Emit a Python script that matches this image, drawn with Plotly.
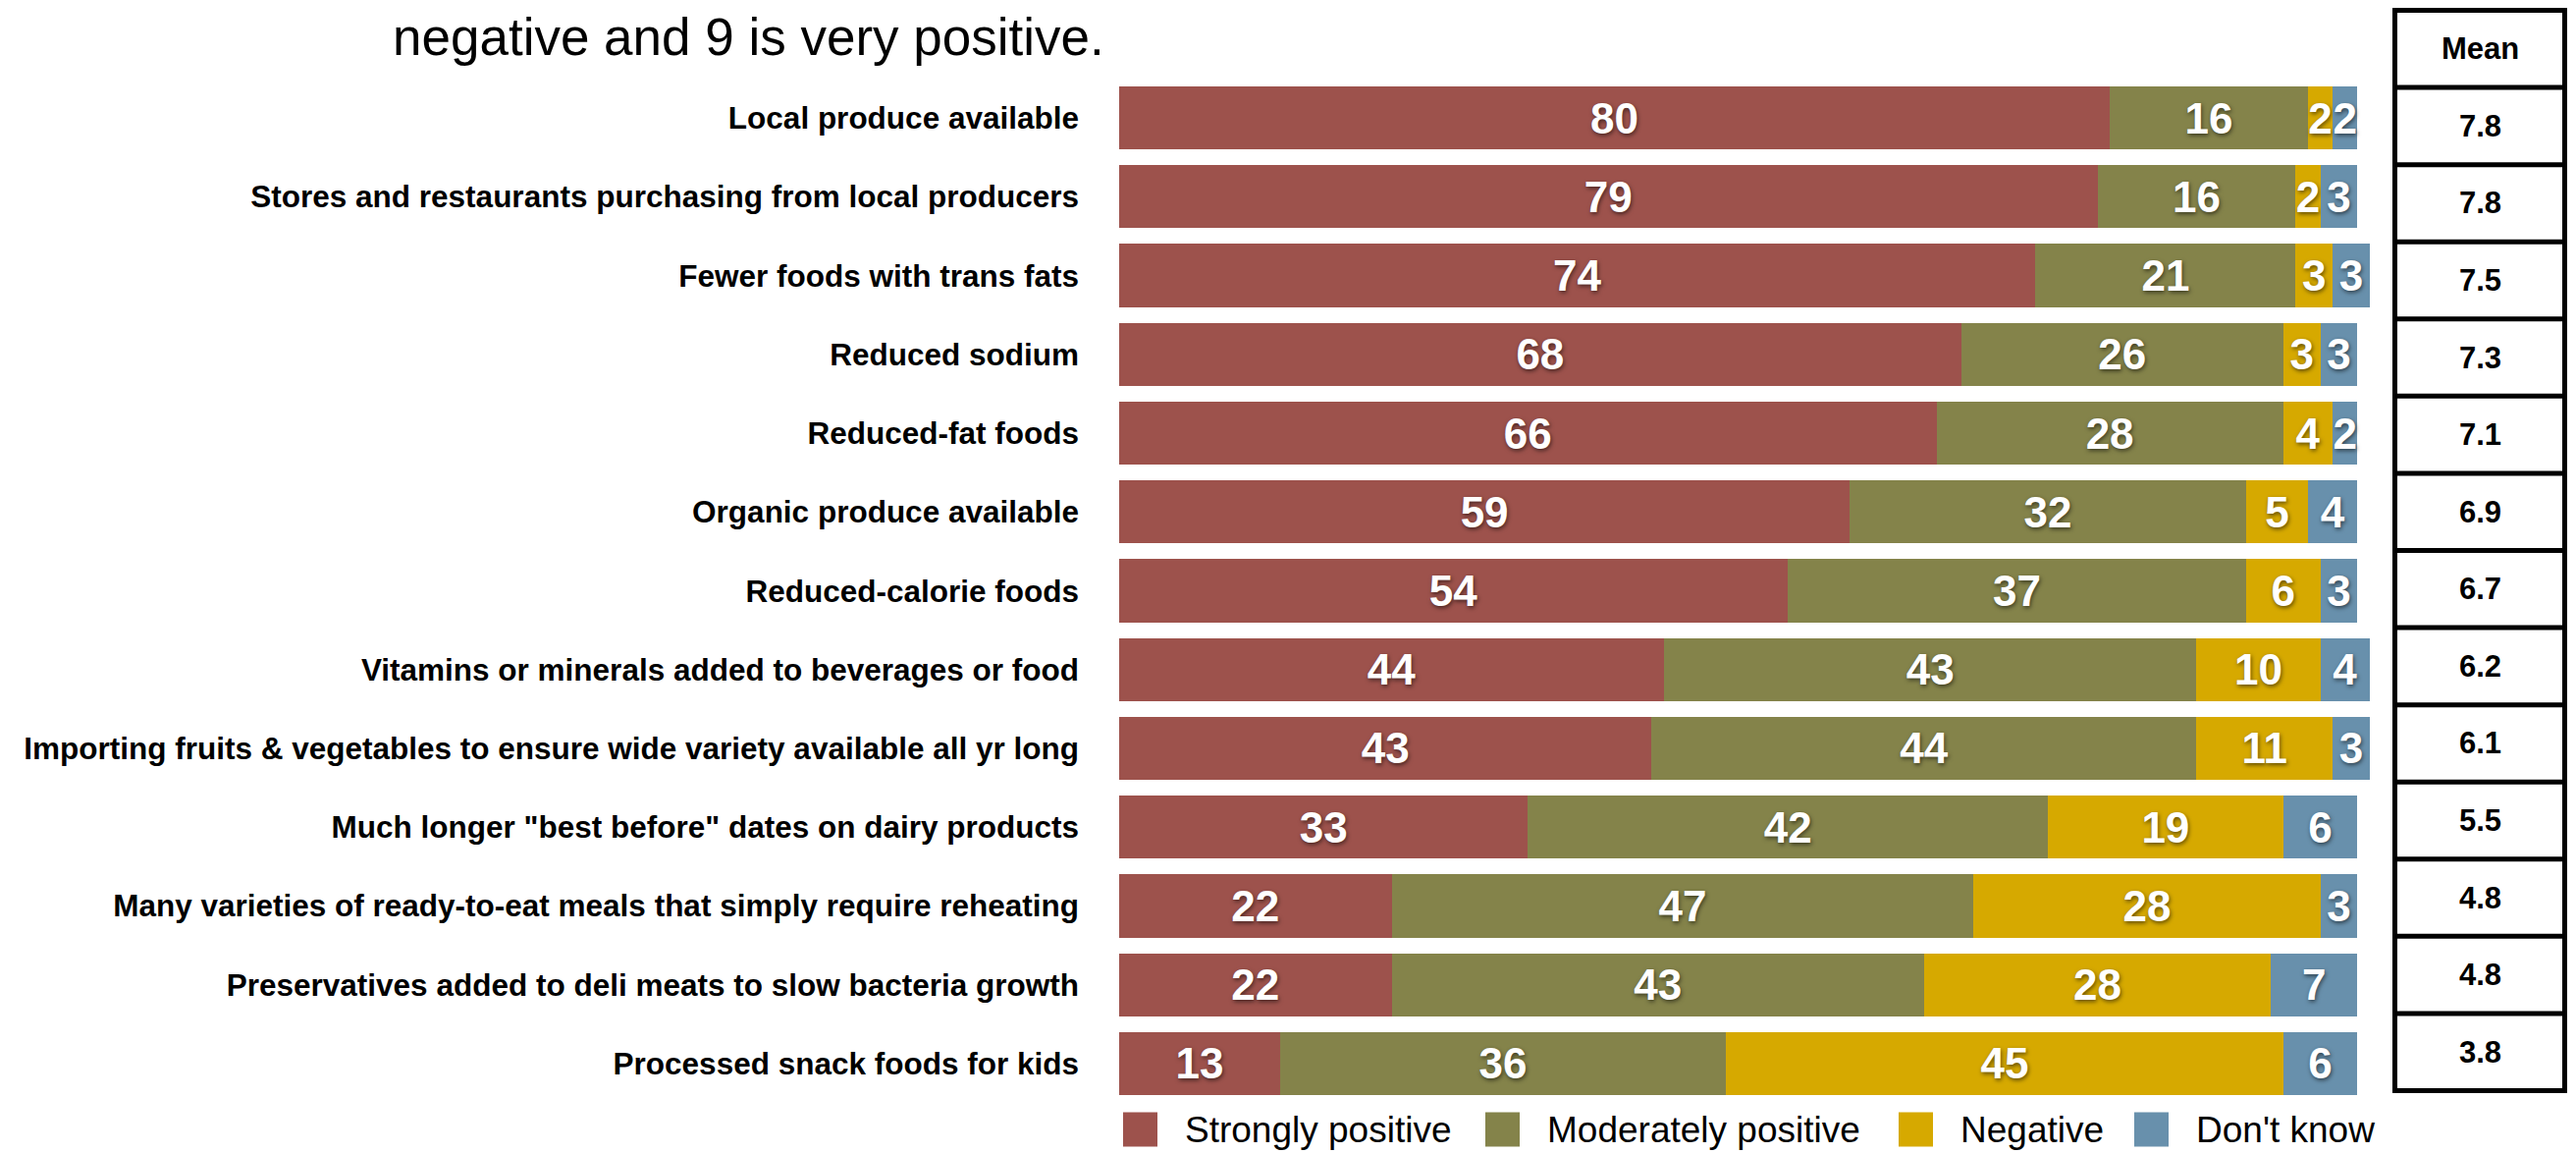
import plotly.graph_objects as go

# Survey items, top to bottom
categories = [
    "Local produce available",
    "Stores and restaurants purchasing from local producers",
    "Fewer foods with trans fats",
    "Reduced sodium",
    "Reduced-fat foods",
    "Organic produce available",
    "Reduced-calorie foods",
    "Vitamins or minerals added to beverages or food",
    "Importing fruits & vegetables to ensure wide variety available all yr long",
    'Much longer "best before" dates on dairy products',
    "Many varieties of ready-to-eat meals that simply require reheating",
    "Preservatives added to deli meats to slow bacteria growth",
    "Processed snack foods for kids",
]

series_names = ["Strongly positive", "Moderately positive", "Negative", "Don't know"]
strongly_positive = [80, 79, 74, 68, 66, 59, 54, 44, 43, 33, 22, 22, 13]
moderately_positive = [16, 16, 21, 26, 28, 32, 37, 43, 44, 42, 47, 43, 36]
negative = [2, 2, 3, 3, 4, 5, 6, 10, 11, 19, 28, 28, 45]
dont_know = [2, 3, 3, 3, 2, 4, 3, 4, 3, 6, 3, 7, 6]
mean_scores = [7.8, 7.8, 7.5, 7.3, 7.1, 6.9, 6.7, 6.2, 6.1, 5.5, 4.8, 4.8, 3.8]

title_text = "negative and 9 is very positive."
mean_header = "Mean"

colors = ["#9d524c", "#84834a", "#d6a900", "#6890ac"]
FONT = "Liberation Sans, Arial, Helvetica, sans-serif"

W, H = 2624, 1174
X0, X1 = 1140, 2414   # plot area, pixels
Y0, Y1 = 80, 1123


def xp(px):
    return (px - X0) / (X1 - X0)


def yp(py):
    return (Y1 - py) / (Y1 - Y0)


fig = go.Figure()
for name, vals, col in zip(series_names,
                           [strongly_positive, moderately_positive, negative, dont_know],
                           colors):
    fig.add_trace(go.Bar(
        y=categories, x=vals, name=name, orientation="h",
        marker=dict(color=col, line=dict(width=0)),
        text=[str(v) for v in vals], textposition="inside",
        insidetextanchor="middle", textangle=0, constraintext="none",
        textfont=dict(color="white", size=44, family=FONT, weight="bold",
                      shadow="1px 2px 4px rgba(0,0,0,0.55)"),
        showlegend=False, hoverinfo="skip",
    ))

shapes = []
annotations = []

# Title line
annotations.append(dict(text=title_text, xref="paper", yref="paper",
                        x=xp(398), y=yp(37), xanchor="left", yanchor="middle",
                        showarrow=False, font=dict(size=53, family=FONT, color="black")))

# Mean table
TX0, TX1 = 2439.5, 2612.5
TY0, TY1 = 10.5, 1110.5
n_rows = len(categories) + 1
row_h = (TY1 - TY0) / n_rows
shapes.append(dict(type="rect", xref="paper", yref="paper",
                   x0=xp(TX0), x1=xp(TX1), y0=yp(TY1), y1=yp(TY0),
                   line=dict(color="black", width=5), fillcolor="white", layer="below"))
for k in range(1, n_rows):
    yy = TY0 + k * row_h
    shapes.append(dict(type="line", xref="paper", yref="paper",
                       x0=xp(TX0), x1=xp(TX1), y0=yp(yy), y1=yp(yy),
                       line=dict(color="black", width=5)))
cells = [mean_header] + [f"{m:.1f}" for m in mean_scores]
for k, txt in enumerate(cells):
    yc = TY0 + (k + 0.5) * row_h
    annotations.append(dict(text=txt, xref="paper", yref="paper",
                            x=xp((TX0 + TX1) / 2), y=yp(yc),
                            xanchor="center", yanchor="middle", showarrow=False,
                            font=dict(size=31, family=FONT, color="black", weight="bold")))

# Legend
legend_sq = [1144, 1513, 1934, 2174]
LY = 1150
SQ = 35
for name, col, sx in zip(series_names, colors, legend_sq):
    shapes.append(dict(type="rect", xref="paper", yref="paper",
                       x0=xp(sx), x1=xp(sx + SQ), y0=yp(LY + SQ / 2), y1=yp(LY - SQ / 2),
                       line=dict(width=0), fillcolor=col))
    annotations.append(dict(text=name, xref="paper", yref="paper",
                            x=xp(sx + SQ + 26), y=yp(LY), xanchor="left", yanchor="middle",
                            showarrow=False,
                            font=dict(size=37, family=FONT, color="black")))

fig.update_layout(
    width=W, height=H, autosize=False,
    margin=dict(l=X0, r=W - X1, t=Y0, b=H - Y1, pad=0, autoexpand=False),
    barmode="stack", bargap=0.2,
    plot_bgcolor="white", paper_bgcolor="white",
    shapes=shapes, annotations=annotations,
    xaxis=dict(range=[0, 101], visible=False, fixedrange=True, automargin=False),
    yaxis=dict(type="category", categoryorder="array", categoryarray=categories,
               autorange="reversed", showgrid=False, showline=False, zeroline=False,
               ticks="", ticklabelstandoff=40, automargin=False,
               tickfont=dict(size=31.5, family=FONT, color="black", weight="bold")),
)

fig.write_html("out.html")
